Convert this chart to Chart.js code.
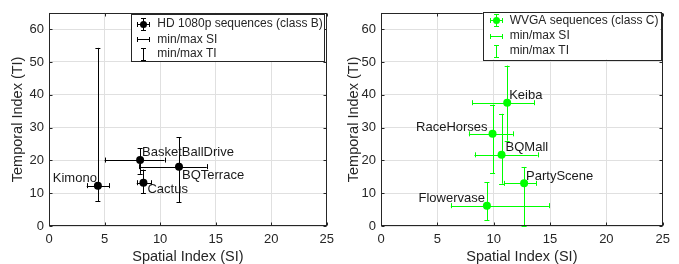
<!DOCTYPE html>
<html>
<head>
<meta charset="utf-8">
<script src="https://cdn.jsdelivr.net/npm/chart.js@4/dist/chart.umd.min.js"></script>
<style>
  html, body { margin: 0; padding: 0; background: #fff; }
  #wrap { position: relative; width: 679px; height: 264px; overflow: hidden; }
  .pane { position: absolute; top: 0; height: 264px; }
</style>
</head>
<body>
<div id="wrap">
  <div class="pane" style="left:0;width:340px"><canvas id="c1" width="340" height="264"></canvas></div>
  <div class="pane" style="left:340px;width:339px"><canvas id="c2" width="339" height="264"></canvas></div>
</div>
<script>
// ---- data ----
const xTicks = [0, 5, 10, 15, 20, 25];
const yTicks = [0, 10, 20, 30, 40, 50, 60];
const xTitle = 'Spatial Index (SI)';
const yTitle = 'Temporal Index (TI)';

// HD 1080p sequences (class B)
const namesB = ['Kimono', 'BasketBallDrive', 'BQTerrace', 'Cactus'];
const siB    = [4.4, 8.2, 11.7, 8.5];
const tiB    = [12.3, 20.1, 18.1, 13.2];
const siMinB = [3.4, 5.0, 8.1, 7.9];
const siMaxB = [5.4, 10.4, 14.2, 9.2];
const tiMinB = [7.5, 15.9, 7.3, 10.0];
const tiMaxB = [54.3, 23.7, 27.0, 17.2];

// WVGA sequences (class C)
const namesC = ['Keiba', 'RaceHorses', 'BQMall', 'PartyScene', 'Flowervase'];
const siC    = [11.2, 9.9, 10.7, 12.7, 9.4];
const tiC    = [37.6, 28.1, 21.7, 13.0, 6.2];
const siMinC = [8.1, 7.8, 8.3, 10.9, 6.2];
const siMaxC = [13.6, 11.7, 13.9, 13.8, 14.9];
const tiMinC = [26.0, 16.1, 12.9, 0.0, 1.8];
const tiMaxC = [48.9, 37.0, 34.2, 18.0, 13.3];

const legendB = ['HD 1080p sequences (class B)', 'min/max SI', 'min/max TI'];
const legendC = ['WVGA sequences (class C)', 'min/max SI', 'min/max TI'];

// ---- styles ----
const FONT = "'Liberation Sans', Arial, Helvetica, sans-serif";
const TXT = '#262626';
const labelStyleB = [[-1, -7, 'right'], [2, -8, 'left'], [3, 9, 'left'], [4, 7, 'left']];
const labelStyleC = [[2, -7, 'left'], [-5, -6, 'right'], [4, -7, 'left'], [2, -7, 'left'], [-2, -7, 'right']];

function px(v) { return Math.round(v) + 0.5; }

const errPlugin = {
  id: 'errbars',
  beforeDatasetsDraw(chart) {
    const o = chart.options.plugins.errbars;
    const xs = chart.scales.x, ys = chart.scales.y, ctx = chart.ctx;
    ctx.save();
    ctx.strokeStyle = o.color; ctx.lineWidth = 1;
    const cap = 2.5;
    for (let i = 0; i < o.si.length; i++) {
      const cx = xs.getPixelForValue(o.si[i]), cy = ys.getPixelForValue(o.ti[i]);
      const x0 = xs.getPixelForValue(o.siMin[i]), x1 = xs.getPixelForValue(o.siMax[i]);
      const y0 = ys.getPixelForValue(o.tiMin[i]), y1 = ys.getPixelForValue(o.tiMax[i]);
      ctx.beginPath();
      ctx.moveTo(x0, px(cy)); ctx.lineTo(x1, px(cy));
      ctx.moveTo(px(x0), cy - cap); ctx.lineTo(px(x0), cy + cap);
      ctx.moveTo(px(x1), cy - cap); ctx.lineTo(px(x1), cy + cap);
      ctx.moveTo(px(cx), y0); ctx.lineTo(px(cx), y1);
      ctx.moveTo(cx - cap, px(y0)); ctx.lineTo(cx + cap, px(y0));
      ctx.moveTo(cx - cap, px(y1)); ctx.lineTo(cx + cap, px(y1));
      ctx.stroke();
    }
    ctx.restore();
  },
  afterDatasetsDraw(chart) {
    const o = chart.options.plugins.errbars;
    const xs = chart.scales.x, ys = chart.scales.y, ctx = chart.ctx;
    ctx.save();
    ctx.font = '13px ' + FONT;
    ctx.fillStyle = '#1a1a1a';
    ctx.textBaseline = 'middle';
    for (let i = 0; i < o.names.length; i++) {
      const cx = xs.getPixelForValue(o.si[i]), cy = ys.getPixelForValue(o.ti[i]);
      const st = o.labelStyle[i];
      ctx.textAlign = st[2];
      ctx.fillText(o.names[i], cx + st[0], cy + st[1]);
    }
    ctx.restore();
  },
  afterDraw(chart) {
    const o = chart.options.plugins.errbars;
    const a = chart.chartArea, ctx = chart.ctx;
    const xs = chart.scales.x, ys = chart.scales.y;
    ctx.save();
    ctx.strokeStyle = TXT; ctx.lineWidth = 1;
    const L = Math.round(a.left) + 0.5, R = Math.round(a.right) - 0.5;
    const T = Math.round(a.top) + 0.5, B = Math.round(a.bottom) - 0.5;
    ctx.strokeRect(L, T, R - L, B - T);
    ctx.beginPath();
    const tl = 3;
    xTicks.forEach(v => {
      const x = px(xs.getPixelForValue(v));
      ctx.moveTo(x, B); ctx.lineTo(x, B - tl);
      ctx.moveTo(x, T); ctx.lineTo(x, T + tl);
    });
    yTicks.forEach(v => {
      const y = px(ys.getPixelForValue(v));
      ctx.moveTo(L, y); ctx.lineTo(L + tl, y);
      ctx.moveTo(R, y); ctx.lineTo(R - tl, y);
    });
    ctx.stroke();

    // legend
    const lg = o.legend;
    ctx.font = '12px ' + FONT;
    ctx.fillStyle = '#fff';
    ctx.fillRect(lg.x, lg.y, lg.w, lg.h);
    ctx.strokeStyle = TXT;
    ctx.strokeRect(px(lg.x), px(lg.y), Math.round(lg.w), Math.round(lg.h));
    ctx.fillStyle = TXT; ctx.textAlign = 'left'; ctx.textBaseline = 'middle';
    const sx = px(lg.x + lg.sym);
    lg.rows.forEach((ry, k) => {
      const yy = lg.y + ry;
      ctx.fillStyle = TXT;
      ctx.fillText(o.legendText[k], lg.x + lg.text, yy);
      ctx.strokeStyle = o.color; ctx.fillStyle = o.color;
      ctx.beginPath();
      const cyy = px(yy);
      if (k === 0 || k === 1) {
        ctx.moveTo(sx - 6, cyy); ctx.lineTo(sx + 6, cyy);
        ctx.moveTo(sx - 6, cyy - 2.5); ctx.lineTo(sx - 6, cyy + 2.5);
        ctx.moveTo(sx + 6, cyy - 2.5); ctx.lineTo(sx + 6, cyy + 2.5);
      }
      if (k === 0 || k === 2) {
        ctx.moveTo(sx, cyy - 6); ctx.lineTo(sx, cyy + 6);
        ctx.moveTo(sx - 2.5, cyy - 6); ctx.lineTo(sx + 2.5, cyy - 6);
        ctx.moveTo(sx - 2.5, cyy + 6); ctx.lineTo(sx + 2.5, cyy + 6);
      }
      ctx.stroke();
      if (k === 0) {
        ctx.beginPath(); ctx.arc(sx, cyy, 3.5, 0, Math.PI * 2); ctx.fill();
      }
    });
    ctx.restore();
  }
};

function makeChart(id, color, names, si, ti, siMin, siMax, tiMin, tiMax, labelStyle, legendText, geo) {
  new Chart(document.getElementById(id), {
    type: 'scatter',
    data: {
      datasets: [{
        data: si.map((x, i) => ({ x: x, y: ti[i] })),
        backgroundColor: color,
        borderWidth: 0,
        pointRadius: 4,
        pointHoverRadius: 4
      }]
    },
    options: {
      responsive: false,
      animation: false,
      devicePixelRatio: 1,
      layout: { padding: { left: 0, right: geo.right, top: 8.6, bottom: 0 } },
      plugins: {
        legend: { display: false },
        tooltip: { enabled: false },
        errbars: { color, names, si, ti, siMin, siMax, tiMin, tiMax, labelStyle, legendText, legend: geo.legend }
      },
      scales: {
        x: {
          type: 'linear', min: 0, max: 25,
          afterBuildTicks: s => { s.ticks = xTicks.map(v => ({ value: v })); },
          afterFit: s => { s.height = 38; },
          grid: { color: '#e0e0e0', drawTicks: false },
          border: { display: false },
          ticks: { color: TXT, font: { family: FONT, size: 13 }, padding: 6, maxRotation: 0, autoSkip: false },
          title: { display: true, text: xTitle, color: TXT, font: { family: FONT, size: 14.5, lineHeight: 1 }, padding: 0 }
        },
        y: {
          type: 'linear', min: 0, max: 65,
          afterBuildTicks: s => { s.ticks = yTicks.map(v => ({ value: v })); },
          afterFit: s => { s.width = geo.yw; },
          grid: { color: '#e0e0e0', drawTicks: false },
          border: { display: false },
          ticks: { color: TXT, font: { family: FONT, size: 13 }, padding: 5, autoSkip: false },
          title: { display: true, text: yTitle, color: TXT, font: { family: FONT, size: 14.5, lineHeight: 1.2 }, padding: { top: geo.ytp, bottom: 0 } }
        }
      }
    },
    plugins: [errPlugin]
  });
}

makeChart('c1', '#000000', namesB, siB, tiB, siMinB, siMaxB, tiMinB, tiMaxB, labelStyleB, legendB,
  { right: 10, yw: 49, ytp: 9.3,
    legend: { x: 131, y: 14, w: 193, h: 47, sym: 12, text: 26.3, rows: [10, 25.3, 39.5] } });
makeChart('c2', '#00ff00', namesC, siC, tiC, siMinC, siMaxC, tiMinC, tiMaxC, labelStyleC, legendC,
  { right: 16.3, yw: 41, ytp: 5.7,
    legend: { x: 142.7, y: 11.7, w: 178, h: 47.6, sym: 13.5, text: 27, rows: [8.5, 24.3, 39] } });
</script>
</body>
</html>
